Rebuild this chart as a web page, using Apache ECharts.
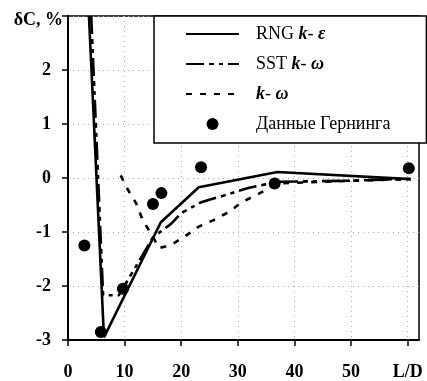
<!DOCTYPE html>
<html><head><meta charset="utf-8">
<script src="https://cdn.jsdelivr.net/npm/echarts@6/dist/echarts.min.js"></script>
<style>html,body{margin:0;padding:0;background:#fff}#c{width:427px;height:381px}</style>
</head><body><div id="c"></div>
<script>
// Data
const xTicks = [0, 10, 20, 30, 40, 50, 60];
const xTickLabels = ['0', '10', '20', '30', '40', '50', 'L/D'];
const yTicks = [-3, -2, -1, 0, 1, 2, 3];
const yTickLabels = ['-3', '-2', '-1', '0', '1', '2', 'δC, %'];

const rngX = [3.7, 6.35, 16.4, 23.1, 37, 60.5];
const rngY = [3.0, -2.95, -0.82, -0.17, 0.11, -0.02];

const sstX = [4.1, 6.2, 9.0, 15.0, 18.2, 20.0, 23.5, 28.0, 32.0, 37.0, 50.0, 58.0, 60.5];
const sstY = [3.0, -2.17, -2.17, -1.1, -0.85, -0.65, -0.45, -0.31, -0.18, -0.07, -0.05, -0.02, -0.02];

const kwX = [9.3, 10.6, 12.0, 13.2, 14.6, 16.1, 18.2, 20.5, 23.1, 25.7, 28.4, 30.8, 33.4, 37.0, 50.0, 60.5];
const kwY = [0.05, -0.22, -0.46, -0.78, -1.02, -1.3, -1.24, -1.09, -0.9, -0.78, -0.63, -0.44, -0.31, -0.1, -0.05, -0.02];

const gernX = [2.9, 5.8, 9.7, 15.0, 16.5, 23.5, 36.5, 60.2];
const gernY = [-1.25, -2.85, -2.05, -0.48, -0.28, 0.2, -0.1, 0.18];

const names = ['RNG k-ε', 'SST k-ω', 'k-ω', 'Данные Гернинга'];
const legendRich = {
  'RNG k-ε': '{n|RNG }{i|k}{n|- }{i|ε}',
  'SST k-ω': '{n|SST }{i|k}{n|- }{i|ω}',
  'k-ω': '{i|k}{n|- }{i|ω}',
  'Данные Гернинга': '{n|Данные Гернинга}'
};

const zip = (xs, ys) => xs.map((x, i) => [x, ys[i]]);
const serif = 'Liberation Serif';

const chart = echarts.init(document.getElementById('c'), null, {renderer: 'canvas'});
chart.setOption({
  animation: false,
  backgroundColor: '#fff',
  grid: {left: 68, right: 8, top: 16, bottom: 41, show: true, borderColor: '#000', borderWidth: 1.5, backgroundColor: 'transparent'},
  xAxis: {
    type: 'value', min: 0, max: 62, interval: 10,
    axisLine: {show: true, onZero: false, lineStyle: {color: '#000', width: 2}},
    axisTick: {show: true, inside: false, length: 6, lineStyle: {color: '#000', width: 1.5}, customValues: xTicks},
    axisLabel: {
      customValues: xTicks, margin: 23,
      fontFamily: serif, fontSize: 18, fontWeight: 'bold', color: '#000',
      formatter: v => xTickLabels[xTicks.indexOf(v)] ?? ''
    },
    splitLine: {show: true, lineStyle: {color: '#aaa', type: [1, 4], width: 1}}
  },
  yAxis: {
    type: 'value', min: -3, max: 3, interval: 1,
    axisLine: {show: true, onZero: false, lineStyle: {color: '#000', width: 2}},
    axisTick: {show: true, inside: false, length: 6, lineStyle: {color: '#000', width: 1.5}},
    axisLabel: {
      margin: 17, fontFamily: serif, fontSize: 18, fontWeight: 'bold', color: '#000',
      formatter: v => {
        const i = yTicks.indexOf(v);
        return i === yTicks.length - 1 ? '{t|' + yTickLabels[i] + '}' : (yTickLabels[i] ?? '');
      },
      rich: {t: {fontFamily: serif, fontSize: 18, fontWeight: 'bold', color: '#000', padding: [8, -12, 0, 0]}}
    },
    splitLine: {show: true, lineStyle: {color: '#aaa', type: [1, 4], width: 1}}
  },
  legend: {
    orient: 'vertical', left: 154, top: 16,
    data: [
      {name: names[0], itemStyle: {opacity: 0}},
      {name: names[1], itemStyle: {opacity: 0}},
      {name: names[2], itemStyle: {opacity: 0}},
      {name: names[3]}
    ],
    itemWidth: 53, itemHeight: 12, itemGap: 12,
    padding: [9, 36, 10, 31],
    backgroundColor: '#fff', borderColor: '#000', borderWidth: 1.5,
    formatter: n => legendRich[n],
    textStyle: {
      color: '#000', fontFamily: serif, fontSize: 18, padding: [0, 0, 0, 12],
      rich: {
        n: {fontFamily: serif, fontSize: 18, color: '#000'},
        i: {fontFamily: serif, fontSize: 18, fontStyle: 'italic', fontWeight: 'bold', color: '#000'}
      }
    }
  },
  series: [
    {name: names[0], type: 'line', data: zip(rngX, rngY), symbol: 'none', showSymbol: false, lineStyle: {color: '#000', width: 2.6}, itemStyle: {color: '#000'}, z: 3},
    {name: names[1], type: 'line', data: zip(sstX, sstY), symbol: 'none', showSymbol: false, lineStyle: {color: '#000', width: 2.6, type: [18, 5, 5, 5, 4, 5]}, itemStyle: {color: '#000'}, z: 3},
    {name: names[2], type: 'line', data: zip(kwX, kwY), symbol: 'none', showSymbol: false, lineStyle: {color: '#000', width: 2.6, type: [6, 8]}, itemStyle: {color: '#000'}, z: 3},
    {name: names[3], type: 'scatter', data: zip(gernX, gernY), symbol: 'circle', symbolSize: 12, itemStyle: {color: '#000', opacity: 1}, z: 4}
  ]
});
</script></body></html>
